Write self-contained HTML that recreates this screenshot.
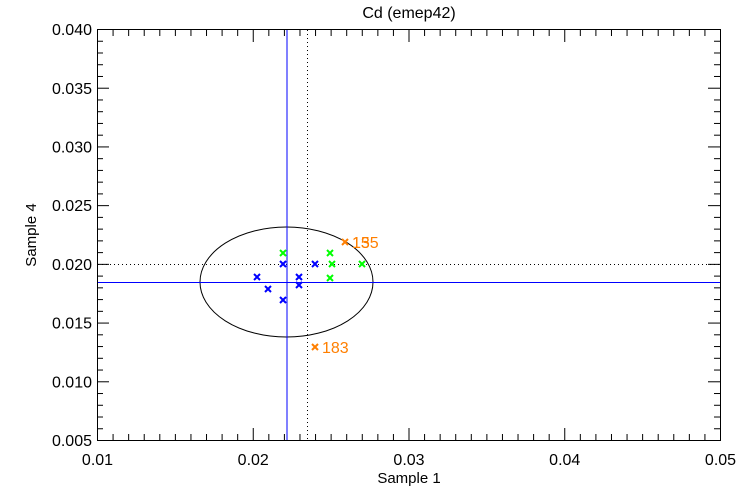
<!DOCTYPE html>
<html><head><style>body{margin:0;background:#fff}svg{display:block}</style></head><body>
<svg width="750" height="500" xmlns="http://www.w3.org/2000/svg" font-family="Liberation Sans, sans-serif">
<rect width="750" height="500" fill="#fff"/>
<g id="ticks" stroke="#000" stroke-width="1" fill="none"></g>
<rect x="97.5" y="29.5" width="623" height="411" fill="none" stroke="#000"/>
<ellipse cx="286.5" cy="282" rx="86.5" ry="55" fill="none" stroke="#000"/>
<line x1="307.5" y1="30" x2="307.5" y2="440" stroke="#000" stroke-dasharray="1,3"/>
<line x1="98" y1="264.5" x2="720" y2="264.5" stroke="#000" stroke-dasharray="1,3"/>
<line x1="287" y1="30" x2="287" y2="440" stroke="#0000ff"/>
<line x1="98" y1="282.5" x2="720" y2="282.5" stroke="#0000ff"/>
<g stroke-width="2" id="m"></g>
<text x="352" y="248" font-size="16" fill="#ff7f00">135</text>
<text x="352" y="248" font-size="16" fill="#ff7f00">15</text>
<text x="322" y="353" font-size="16" fill="#ff7f00">183</text>
<text x="409" y="18" font-size="16" text-anchor="middle">Cd (emep42)</text>
<text x="409" y="483" font-size="15" text-anchor="middle">Sample 1</text>
<text x="36" y="235" font-size="15" text-anchor="middle" transform="rotate(-90 36 235)">Sample 4</text>
<g id="lab" font-size="16"></g>
<script>
var ns="http://www.w3.org/2000/svg";
function el(p,t,a,txt){var e=document.createElementNS(ns,t);for(var k in a)e.setAttribute(k,a[k]);if(txt)e.textContent=txt;document.getElementById(p).appendChild(e);}
for(var i=0;i<=40;i++){var x=97.5+i*623/40,L=(i%10==0)?12:6;
el("ticks","line",{x1:x,y1:440,x2:x,y2:440-L});el("ticks","line",{x1:x,y1:30,x2:x,y2:30+L});}
for(var j=0;j<=35;j++){var y=440.5-j*411/35,L=(j%5==0)?12:6;
el("ticks","line",{x1:97,y1:y,x2:97+L,y2:y});el("ticks","line",{x1:720,y1:y,x2:720-L,y2:y});}
["0.01","0.02","0.03","0.04","0.05"].forEach(function(s,i){el("lab","text",{x:97.5+i*155.75,y:465,"text-anchor":"middle"},s);});
for(var j=0;j<=7;j++){el("lab","text",{x:92,y:446-j*58.7,"text-anchor":"end"},(0.005+j*0.005).toFixed(3));}
function mk(x,y,c){var d=3;el("m","path",{d:"M"+(x-d)+" "+(y-d)+"L"+(x+d)+" "+(y+d)+"M"+(x-d)+" "+(y+d)+"L"+(x+d)+" "+(y-d),stroke:c});}
[[257,277],[268,289],[283,264],[283,300],[299,277],[299,285],[315,264]].forEach(function(p){mk(p[0],p[1],"#0000ff");});
[[283,253],[330,253],[332,264],[330,278],[362,264]].forEach(function(p){mk(p[0],p[1],"#00ff00");});
[[345,242],[315,347]].forEach(function(p){mk(p[0],p[1],"#ff7f00");});
</script>
</svg>
</body></html>
